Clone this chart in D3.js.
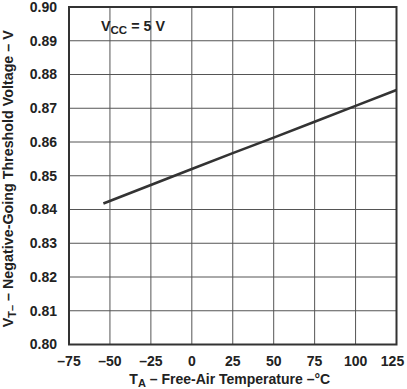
<!DOCTYPE html>
<html>
<head>
<meta charset="utf-8">
<script src="https://cdn.jsdelivr.net/npm/d3@7/dist/d3.min.js"></script>
<style>
  body { margin: 0; background: #fff; }
  text { font-family: "Liberation Sans", Arial, sans-serif; font-weight: bold; fill: #222; }
</style>
</head>
<body>
<svg id="chart" width="407" height="389"></svg>
<script>
// readings from the curve
let temps = [-54, 0, 25, 50, 75, 100, 125];
let volts = [0.8418, 0.8520, 0.8567, 0.8613, 0.8660, 0.8707, 0.8754];

let xTicks = [-75, -50, -25, 0, 25, 50, 75, 100, 125];
let yTicks = [0.80, 0.81, 0.82, 0.83, 0.84, 0.85, 0.86, 0.87, 0.88, 0.89, 0.90];

let svg = d3.select("#chart");

let x = d3.scaleLinear().domain([-75, 125]).range([69, 396.5]);
let y = d3.scaleLinear().domain([0.80, 0.90]).range([344.5, 7]);

// grid
svg.append("g").selectAll("line").data(xTicks.slice(1, -1)).join("line")
    .attr("x1", d => x(d)).attr("x2", d => x(d))
    .attr("y1", y(0.90)).attr("y2", y(0.80))
    .attr("stroke", "#555").attr("stroke-width", 1);

svg.append("g").selectAll("line").data(yTicks.slice(1, -1)).join("line")
    .attr("y1", d => y(d)).attr("y2", d => y(d))
    .attr("x1", x(-75)).attr("x2", x(125))
    .attr("stroke", "#555").attr("stroke-width", 1);

// frame
svg.append("rect")
    .attr("x", x(-75)).attr("y", y(0.90))
    .attr("width", x(125) - x(-75)).attr("height", y(0.80) - y(0.90))
    .attr("fill", "none").attr("stroke", "#333").attr("stroke-width", 2);

// curve
let line = d3.line().x((d, i) => x(temps[i])).y(d => y(d));
svg.append("path")
    .attr("d", line(volts))
    .attr("fill", "none").attr("stroke", "#333").attr("stroke-width", 2.6);

// tick labels
svg.append("g").selectAll("text").data(yTicks).join("text")
    .attr("x", 57).attr("y", d => y(d)).attr("dy", "0.35em")
    .attr("text-anchor", "end").attr("font-size", 14)
    .text(d => d.toFixed(2));

svg.append("g").selectAll("text").data(xTicks).join("text")
    .attr("x", (d, i) => x(d) + (i == xTicks.length - 1 ? -4 : 0)).attr("y", 366)
    .attr("text-anchor", "middle").attr("font-size", 14)
    .text(d => d < 0 ? "\u2013" + Math.abs(d) : d);

// axis titles
let xt = svg.append("text")
    .attr("x", (x(-75) + x(125)) / 2 - 3).attr("y", 384)
    .attr("text-anchor", "middle").attr("font-size", 14);
xt.append("tspan").text("T");
xt.append("tspan").attr("font-size", 11).attr("dy", 3).text("A");
xt.append("tspan").attr("dy", -3).text(" \u2013 Free-Air Temperature \u2013\u00b0C");

let yt = svg.append("text")
    .attr("transform", "translate(13," + ((y(0.80) + y(0.90)) / 2 + 3) + ") rotate(-90)")
    .attr("text-anchor", "middle").attr("font-size", 14.3);
yt.append("tspan").text("V");
yt.append("tspan").attr("font-size", 11).attr("dy", 3).text("T\u2013");
yt.append("tspan").attr("dy", -3).text(" \u2013 Negative-Going Threshold Voltage \u2013 V");

// condition label
let vc = svg.append("text").attr("x", 101).attr("y", 31).attr("font-size", 14.3);
vc.append("tspan").text("V");
vc.append("tspan").attr("font-size", 11.5).attr("dy", 3).text("CC");
vc.append("tspan").attr("dy", -3).text(" = 5 V");
</script>
</body>
</html>
